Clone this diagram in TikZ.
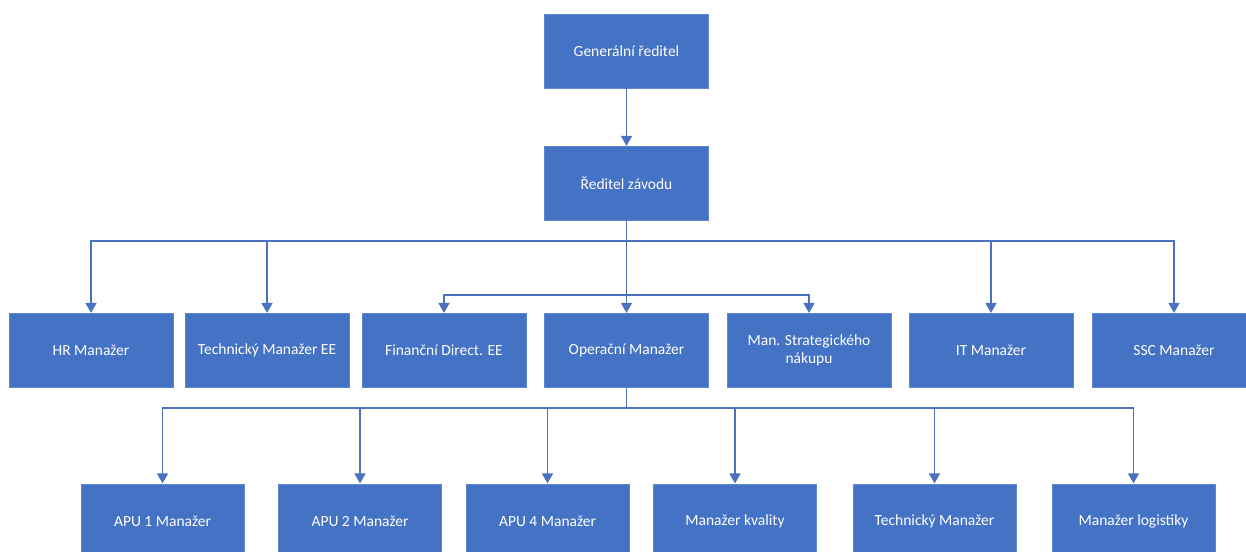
\documentclass[tikz,border=0pt]{standalone}
\usepackage{fontspec}
\setmainfont{Carlito}
\usetikzlibrary{arrows.meta}
\definecolor{ob}{HTML}{4472C4}
\definecolor{obline}{HTML}{4A72C0}
\tikzset{
  box/.style={rectangle, fill=ob, draw=ob!85!white, line width=0.6pt, text=white,
    minimum width=164pt, minimum height=74pt, inner sep=2pt, align=center,
    font=\fontsize{15.5}{18}\selectfont},
  lowbox/.style={box, minimum width=163pt},
  conn/.style={draw=obline, line width=1.5pt},
  arr/.style={conn, -{Triangle[width=11pt,length=10pt]}, shorten >=0.3pt}
}
\begin{document}
\begin{tikzpicture}[x=1pt,y=-1pt]
\clip (0,0) rectangle (1246,551);
\fill[white] (0,0) rectangle (1246,551);
% top
\node[box] (gen) at (626.5,51) {Generální ředitel};
\node[box] (red) at (626.5,183.5) {Ředitel závodu};
% row 2
\node[box] (hr)  at (91,350.5)   {HR Manažer};
\node[box] (tee) at (267,350.5)  {Technický Manažer EE};
\node[box] (fin) at (444,350.5)  {Finanční Direct. EE};
\node[box] (op)  at (626.5,350.5){Operační Manažer};
\node[box] (ms)  at (809,350.5)  {Man. Strategického\\nákupu};
\node[box] (it)  at (991,350.5)  {IT Manažer};
\node[box] (ssc) at (1174,350.5) {SSC Manažer};
% row 3
\node[lowbox] (apu1) at (162.5,521) {APU 1 Manažer};
\node[lowbox] (apu2) at (360,521)   {APU 2 Manažer};
\node[lowbox] (apu4) at (547.5,521) {APU 4 Manažer};
\node[lowbox] (kval) at (735,521)   {Manažer kvality};
\node[lowbox] (tech) at (934.5,521) {Technický Manažer};
\node[lowbox] (log)  at (1133.5,521){Manažer logistiky};
% bus coordinates
\coordinate (b1) at (626.5,241);
\coordinate (b2) at (626.5,295);
\coordinate (b3) at (626.5,408);
% connectors
\draw[arr] (gen) -- (red);
\draw[arr] (red) -- (op);
\draw[arr] (b1) -| (hr.north);
\draw[arr] (b1) -| (tee.north);
\draw[arr] (b1) -| (it.north);
\draw[arr] (b1) -| (ssc.north);
\draw[arr] (b2) -| (fin.north);
\draw[arr] (b2) -| (ms.north);
\draw[conn] (op.south) -- (b3);
\draw[arr] (b3) -| (apu1.north);
\draw[arr] (b3) -| (apu2.north);
\draw[arr] (b3) -| (apu4.north);
\draw[arr] (b3) -| (kval.north);
\draw[arr] (b3) -| (tech.north);
\draw[arr] (b3) -| (log.north);
\end{tikzpicture}
\end{document}
